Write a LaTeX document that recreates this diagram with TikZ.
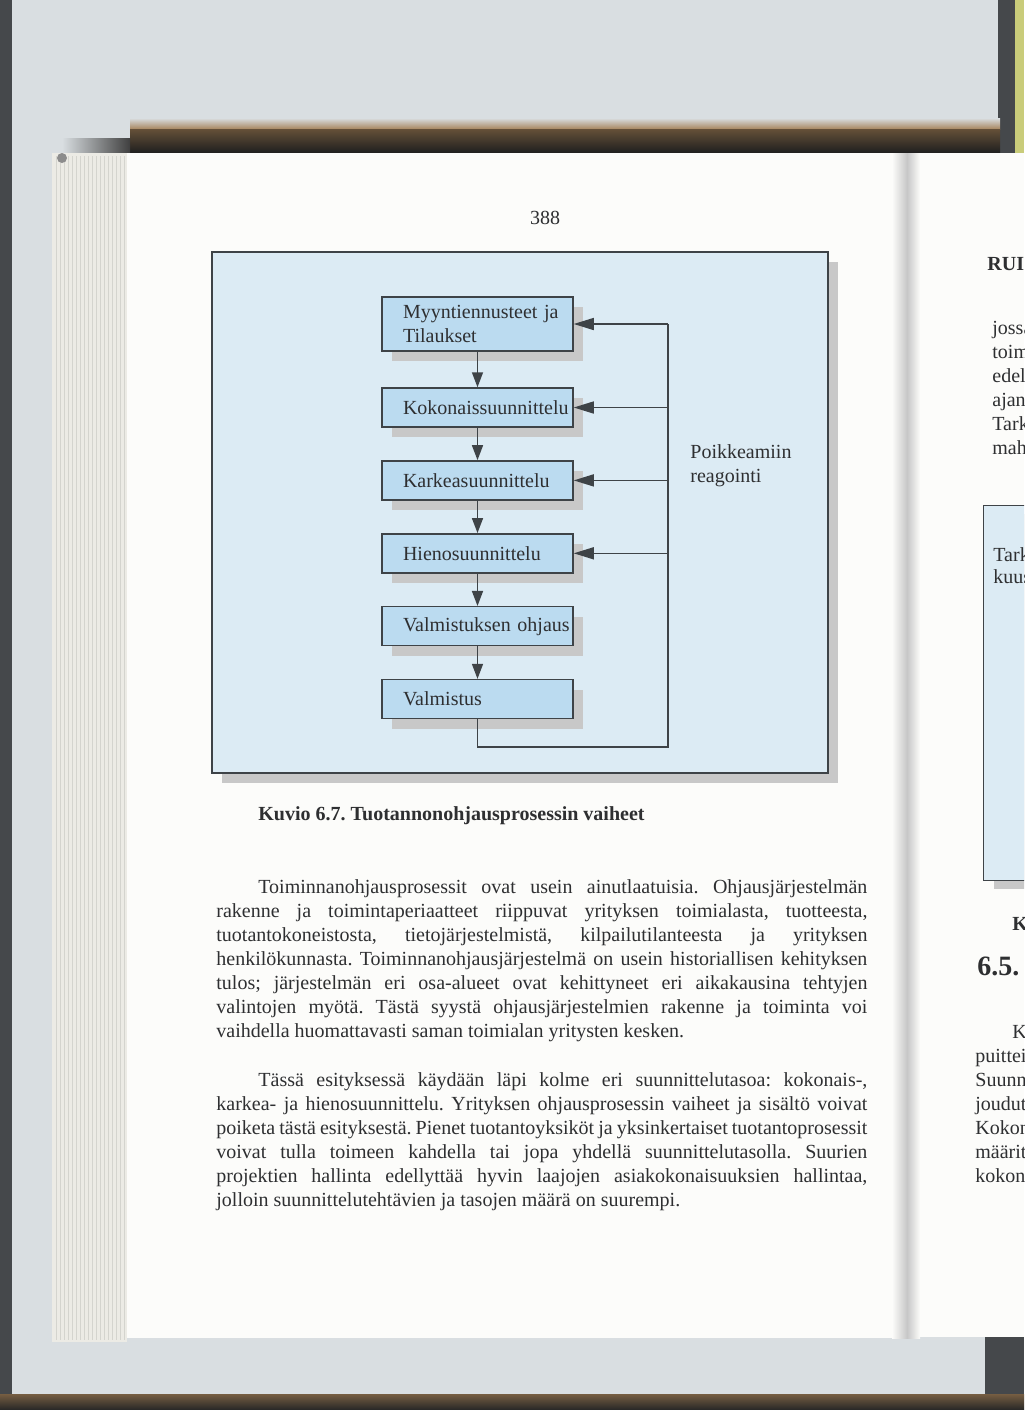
\documentclass[tikz,border=0pt]{standalone}
\usepackage{fontspec}
\setmainfont{Liberation Serif}
\usepackage{xcolor}
\usetikzlibrary{positioning, arrows.meta, shadows}
\frenchspacing
\hyphenpenalty=10000
\exhyphenpenalty=10000

\definecolor{desk}{HTML}{D9DEE1}
\definecolor{edgedark}{HTML}{45484B}
\definecolor{paper}{HTML}{FCFCFA}
\definecolor{leaves}{HTML}{ECEBE5}
\definecolor{leafline}{HTML}{D4D4CE}
\definecolor{panelblue}{HTML}{DCEBF4}
\definecolor{stageblue}{HTML}{BBDBF0}
\definecolor{shadowgrey}{HTML}{C8C8C8}
\definecolor{linegrey}{HTML}{3E4347}
\definecolor{ink}{HTML}{2E2F31}
\definecolor{bandbrown}{HTML}{A8865E}
\definecolor{limeedge}{HTML}{C9CC7A}

\tikzset{
  stage/.style={draw=linegrey, line width=0.75pt, fill=stageblue, minimum width=95.5pt,
    minimum height=19.5pt, text width=74.5pt, align=left, inner sep=0pt, text=ink,
    font=\fontsize{10}{12}\selectfont,
    drop shadow={shadow xshift=5pt, shadow yshift=-5pt, fill=shadowgrey, opacity=1}},
  flow/.style={-{Triangle[length=7.5pt,width=5.5pt]}, draw=linegrey, line width=0.75pt},
  back/.style={-{Triangle[length=10pt,width=6pt]}, draw=linegrey, line width=0.75pt},
  para/.style={anchor=north west, inner sep=0pt, text width=325.5pt, align=justify, text=ink,
    font=\fontsize{10}{12}\selectfont},
  side/.style={anchor=base west, inner sep=0pt, text=ink, font=\fontsize{10}{12}\selectfont}
}

\begin{document}
\begin{tikzpicture}[x=0.5pt, y=-0.5pt, node distance=16.2pt]
  \useasboundingbox (0,0) rectangle (1024,1410);
  \clip (0,0) rectangle (1024,1410);

  % scanner glass and book edges
  \fill[desk] (0,0) rectangle (1024,1410);
  \fill[edgedark] (0,0) rectangle (12,1410);
  \fill[edgedark] (998,0) rectangle (1015,155);
  \fill[limeedge] (1015,0) rectangle (1024,155);
  \shade[top color=desk, bottom color=bandbrown] (130,118) rectangle (1000,129);
  \shade[top color=bandbrown!60!black, bottom color=black!88] (130,129) rectangle (1000,153);
  \shade[left color=desk, right color=black!75] (62,138) rectangle (130,153);
  \fill[edgedark] (985,1337) rectangle (1024,1394);
  \shade[top color=bandbrown!70!black, bottom color=black!85] (0,1394) rectangle (1024,1410);

  % left page with the page stack, right page
  \fill[leaves] (52,153) rectangle (127,1342);
  \foreach \x in {56,60,...,124}
    \draw[leafline, line width=0.3pt] (\x,156) -- (\x,1340);
  \fill[black!45] (62,158) circle (5);
  \fill[paper] (127,153) rectangle (915,1338);
  \fill[paper] (915,153) rectangle (1024,1337);
  \shade[left color=paper, right color=black!22] (892,153) rectangle (907,1338);
  \shade[left color=black!22, right color=paper] (907,153) rectangle (920,1338);

  \node[font=\fontsize{10}{12}\selectfont, text=ink] (pageno) at (545,218) {388};

  % the figure
  \node[draw=linegrey, line width=0.75pt, fill=panelblue, minimum width=308pt, minimum height=260.5pt,
    drop shadow={shadow xshift=5pt, shadow yshift=-5pt, fill=shadowgrey, opacity=1}] (panel) at (520,512.5) {};

  \node[stage, minimum height=27pt] (myynti) at (477.5,324) {\mbox{Myyntiennusteet ja}\\Tilaukset};
  \node[stage, below=17.75pt of myynti] (koko) {Kokonaissuunnittelu};
  \node[stage, below=of koko] (karkea) {Karkeasuunnittelu};
  \node[stage, below=of karkea] (hieno) {Hienosuunnittelu};
  \node[stage, below=of hieno] (ohjaus) {\mbox{Valmistuksen ohjaus}};
  \node[stage, below=of ohjaus] (valmistus) {Valmistus};

  \foreach \a/\b in {myynti/koko, koko/karkea, karkea/hieno, hieno/ohjaus, ohjaus/valmistus}
    \draw[flow] (\a) -- (\b);

  \coordinate (fb) at (668,747);
  \draw[linegrey, line width=0.75pt] (valmistus.south) |- (fb) -- (fb |- myynti.east);
  \foreach \s in {myynti, koko, karkea, hieno}
    \draw[back] (fb |- \s.east) -- (\s.east);

  \node[side, anchor=west, align=left] (poik) at (690,466) {Poikkeamiin\\reagointi};

  \node[side, font=\bfseries\fontsize{10}{12}\selectfont] (caption) at (258,820)
    {Kuvio 6.7. Tuotannonohjausprosessin vaiheet};

  % body text
  \node[para] (par1) at (216,879) {\hspace*{21pt}Toiminnanohjausprosessit ovat usein ainutlaatuisia. Ohjausjärjestelmän\linebreak
    rakenne ja toimintaperiaatteet riippuvat yrityksen toimialasta, tuotteesta,\linebreak
    tuotantokoneistosta, tietojärjestelmistä, kilpailutilanteesta ja yrityksen\linebreak
    henkilökunnasta. Toiminnanohjausjärjestelmä on usein historiallisen kehityksen\linebreak
    tulos; järjestelmän eri osa-alueet ovat kehittyneet eri aikakausina tehtyjen\linebreak
    valintojen myötä. Tästä syystä ohjausjärjestelmien rakenne ja toiminta voi\linebreak
    vaihdella huomattavasti saman toimialan yritysten kesken.};
  \node[para] (par2) at (216,1072) {\hspace*{21pt}Tässä esityksessä käydään läpi kolme eri suunnittelutasoa: kokonais-,\linebreak
    karkea- ja hienosuunnittelu. Yrityksen ohjausprosessin vaiheet ja sisältö voivat\linebreak
    poiketa tästä esityksestä. Pienet tuotantoyksiköt ja yksinkertaiset tuotantoprosessit\linebreak
    voivat tulla toimeen kahdella tai jopa yhdellä suunnittelutasolla. Suurien\linebreak
    projektien hallinta edellyttää hyvin laajojen asiakokonaisuuksien hallintaa,\linebreak
    jolloin suunnittelutehtävien ja tasojen määrä on suurempi.};

  % edge of the facing page
  \node[side, font=\bfseries\fontsize{10}{12}\selectfont] (rhead) at (987,270) {RUI};
  \foreach \t [count=\i] in {jossa, toim, edell, ajan, Tark, mahd}
    \node[side] (rtop\i) at (992,310+24*\i) {\t};
  \node[draw=linegrey, line width=0.6pt, fill=panelblue, anchor=north west, minimum width=40pt,
    minimum height=187.5pt, inner sep=0pt,
    drop shadow={shadow xshift=5pt, shadow yshift=-4pt, fill=shadowgrey, opacity=1}] (rpanel) at (983,505) {};
  \node[side] (rbox1) at (993,561) {Tark};
  \node[side] (rbox2) at (993,583) {kuus};
  \node[side, font=\bfseries\fontsize{10}{12}\selectfont] (rcap) at (1012,930) {K};
  \node[side, font=\bfseries\fontsize{14}{16}\selectfont] (rsec) at (977,975) {6.5.};
  \node[side] (rpar) at (1012,1038) {K};
  \foreach \t [count=\i] in {puittei, Suunni, joudut, Kokon, määritt, kokona}
    \node[side] (rbot\i) at (975,1038+24*\i) {\t};
\end{tikzpicture}
\end{document}
